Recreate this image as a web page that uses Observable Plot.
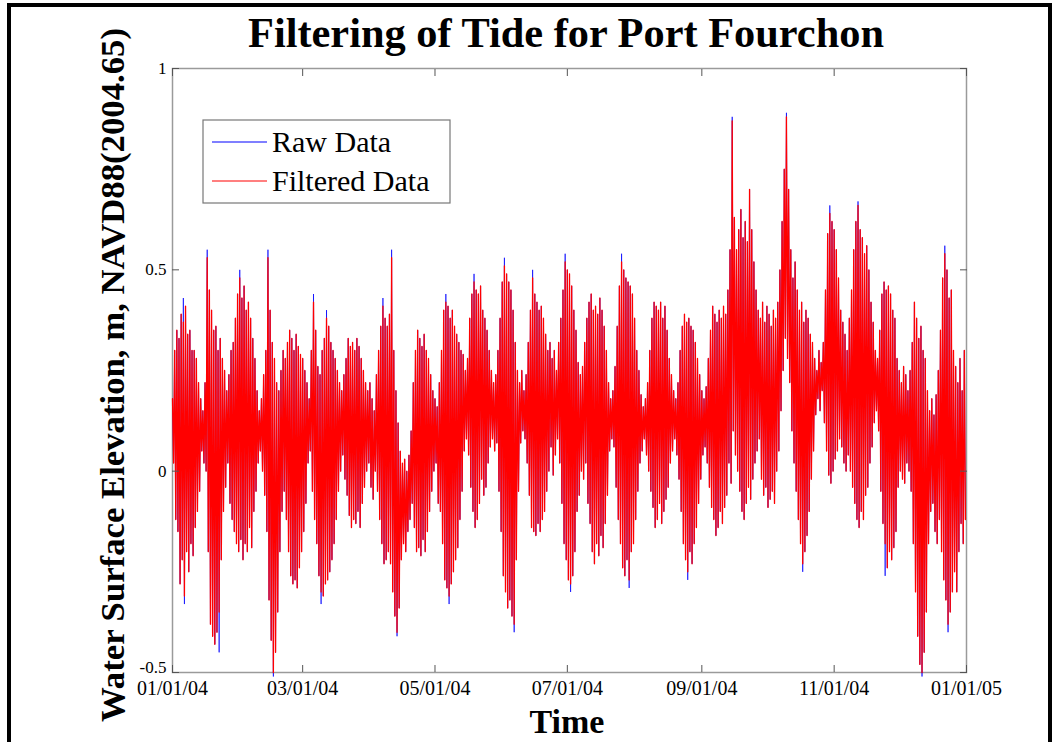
<!DOCTYPE html>
<html><head><meta charset="utf-8">
<script src="https://cdn.jsdelivr.net/npm/d3@7"></script>
<script src="https://cdn.jsdelivr.net/npm/@observablehq/plot@0.6"></script>
<style>body{margin:0;background:#fff}</style>
</head><body><div id="chart"></div>
<script>
const chartTitle = "Filtering of Tide for Port Fourchon";
const xLabel = "Time";
const yLabel = "Water Surface Elevation, m, NAVD88(2004.65)";
const seriesNames = ["Raw Data", "Filtered Data"];
const seriesColors = ["#0000ff", "#ff0000"];
const xTickDates = ["2004-01-01","2004-03-01","2004-05-01","2004-07-01","2004-09-01","2004-11-01","2005-01-01"];
const xTickLabels = ["01/01/04","03/01/04","05/01/04","07/01/04","09/01/04","11/01/04","01/01/05"];
const yTicks = [-0.5, 0, 0.5, 1];
const yTickLabels = ["-0.5", "0", "0.5", "1"];
const startDate = "2004-01-01";

// daily high water (m), one value per day from 01/01/04
const dailyHigh = [
0.18,0.30,0.35,0.33,0.39,0.37,0.41,0.34,0.35,0.30,
0.30,0.28,0.22,0.18,0.15,0.22,0.53,0.45,0.40,0.35,
0.36,0.30,0.33,0.28,0.25,0.20,0.24,0.30,0.32,0.38,
0.44,0.48,0.43,0.46,0.40,0.42,0.38,0.33,0.28,0.20,
0.15,0.18,0.24,0.30,0.53,0.40,0.32,0.28,0.22,0.20,
0.25,0.30,0.28,0.32,0.35,0.33,0.30,0.34,0.31,0.29,
0.28,0.25,0.22,0.18,0.30,0.42,0.35,0.26,0.24,0.30,
0.33,0.38,0.36,0.32,0.30,0.28,0.25,0.22,0.20,0.24,
0.28,0.33,0.31,0.32,0.30,0.33,0.31,0.28,0.25,0.22,
0.20,0.22,0.18,0.15,0.24,0.30,0.36,0.41,0.38,0.36,
0.39,0.53,0.30,0.20,0.12,0.05,0.02,0.03,0.00,0.04,
0.10,0.22,0.30,0.35,0.33,0.31,0.34,0.30,0.28,0.24,
0.20,0.18,0.16,0.22,0.30,0.40,0.42,0.41,0.38,0.40,
0.36,0.34,0.32,0.30,0.29,0.25,0.28,0.38,0.44,0.47,
0.45,0.44,0.46,0.40,0.38,0.35,0.30,0.25,0.22,0.24,
0.30,0.38,0.47,0.51,0.49,0.47,0.45,0.40,0.32,0.25,
0.22,0.25,0.20,0.24,0.32,0.40,0.48,0.44,0.42,0.40,
0.41,0.38,0.34,0.30,0.32,0.28,0.30,0.25,0.32,0.38,
0.45,0.52,0.50,0.49,0.46,0.40,0.35,0.27,0.24,0.26,
0.32,0.38,0.42,0.44,0.40,0.41,0.39,0.43,0.40,0.36,
0.30,0.22,0.18,0.20,0.26,0.36,0.46,0.52,0.50,0.48,
0.47,0.46,0.44,0.38,0.30,0.25,0.19,0.16,0.18,0.22,
0.30,0.38,0.42,0.41,0.40,0.42,0.38,0.41,0.35,0.28,
0.24,0.20,0.18,0.22,0.30,0.36,0.39,0.37,0.38,0.36,
0.35,0.32,0.28,0.24,0.20,0.18,0.21,0.28,0.35,0.41,
0.39,0.37,0.40,0.38,0.41,0.39,0.45,0.55,0.87,0.63,
0.55,0.60,0.65,0.58,0.62,0.57,0.70,0.60,0.52,0.45,
0.40,0.38,0.42,0.37,0.41,0.39,0.36,0.40,0.38,0.42,
0.50,0.62,0.75,0.88,0.70,0.55,0.48,0.52,0.45,0.40,
0.42,0.37,0.40,0.38,0.34,0.32,0.28,0.25,0.30,0.27,
0.32,0.45,0.59,0.64,0.62,0.60,0.55,0.48,0.40,0.37,
0.34,0.30,0.38,0.45,0.55,0.62,0.66,0.60,0.58,0.54,
0.56,0.50,0.42,0.37,0.30,0.28,0.35,0.44,0.47,0.45,
0.46,0.44,0.40,0.38,0.28,0.25,0.22,0.26,0.24,0.20,
0.25,0.32,0.42,0.38,0.33,0.36,0.30,0.28,0.20,0.15,
0.18,0.14,0.19,0.25,0.35,0.48,0.54,0.50,0.43,0.45,
0.30,0.26,0.22,0.28,0.20,0.30
];
// daily low water (m)
const dailyLow = [
0.02,-0.12,-0.15,-0.28,-0.22,-0.31,-0.20,-0.25,-0.18,-0.21,
-0.14,-0.10,-0.05,0.05,0.02,0.00,-0.20,-0.38,-0.41,-0.43,
-0.40,-0.35,-0.22,-0.10,-0.04,0.02,-0.08,-0.12,-0.15,-0.18,
-0.20,-0.17,-0.22,-0.18,-0.20,-0.14,-0.19,-0.10,-0.05,0.02,
0.05,0.00,-0.06,-0.15,-0.32,-0.42,-0.50,-0.45,-0.35,-0.20,
-0.10,-0.05,-0.12,-0.20,-0.26,-0.28,-0.27,-0.29,-0.24,-0.20,
-0.15,-0.08,0.02,0.05,-0.05,-0.12,-0.18,-0.26,-0.30,-0.31,
-0.28,-0.27,-0.25,-0.22,-0.18,-0.12,-0.05,0.00,0.04,-0.02,
-0.06,-0.11,-0.14,-0.12,-0.13,-0.10,-0.14,-0.08,-0.04,0.00,
0.02,-0.04,-0.07,0.00,-0.05,-0.12,-0.18,-0.23,-0.22,-0.20,
-0.23,-0.30,-0.36,-0.40,-0.34,-0.22,-0.18,-0.20,-0.15,-0.12,
-0.08,-0.14,-0.20,-0.19,-0.21,-0.17,-0.20,-0.15,-0.10,-0.05,
0.00,0.02,-0.08,-0.10,-0.18,-0.27,-0.29,-0.31,-0.28,-0.25,
-0.22,-0.19,-0.12,-0.05,0.05,0.08,0.04,-0.04,-0.10,-0.14,
-0.12,-0.08,-0.02,-0.06,-0.04,0.02,0.06,0.08,0.05,0.07,
-0.05,-0.15,-0.26,-0.30,-0.34,-0.32,-0.36,-0.38,-0.22,-0.05,
0.07,0.10,0.08,0.02,-0.06,-0.14,-0.15,-0.16,-0.13,-0.15,
-0.12,-0.10,-0.05,0.00,0.06,-0.01,0.04,0.08,0.02,-0.08,
-0.18,-0.22,-0.27,-0.28,-0.26,-0.20,-0.10,-0.06,0.00,-0.02,
0.02,-0.08,-0.13,-0.20,-0.23,-0.18,-0.21,-0.16,-0.19,-0.13,
-0.06,0.05,0.08,0.06,-0.04,-0.12,-0.18,-0.24,-0.26,-0.22,
-0.27,-0.20,-0.18,-0.12,-0.05,0.02,0.05,0.08,0.04,0.00,
-0.05,-0.09,-0.14,-0.12,-0.08,-0.13,-0.10,-0.07,-0.04,0.02,
0.05,0.08,0.04,-0.02,-0.10,-0.18,-0.22,-0.25,-0.20,-0.23,
-0.18,-0.14,-0.08,-0.02,0.04,0.06,0.02,-0.04,-0.09,-0.12,
-0.16,-0.14,-0.10,-0.13,-0.09,-0.06,0.02,-0.03,0.10,0.04,
0.00,-0.05,-0.10,-0.12,-0.08,-0.04,-0.07,-0.02,0.02,0.05,
0.08,-0.02,-0.06,-0.04,-0.09,-0.07,-0.05,-0.08,0.00,0.05,
0.15,0.25,0.33,0.28,0.22,0.10,0.02,-0.05,-0.12,-0.18,
-0.23,-0.20,-0.16,-0.10,-0.02,0.05,0.14,0.18,0.15,0.20,
0.12,0.05,-0.01,-0.03,0.00,0.03,0.05,0.08,0.06,0.02,
0.00,0.04,0.00,-0.04,-0.08,-0.12,-0.14,-0.10,-0.12,-0.06,
-0.04,0.02,0.06,0.12,0.15,0.10,-0.05,-0.13,-0.18,-0.24,
-0.20,-0.22,-0.19,-0.15,-0.04,0.00,-0.02,-0.03,0.02,0.00,
-0.05,-0.18,-0.30,-0.41,-0.48,-0.50,-0.45,-0.35,-0.18,-0.10,
-0.08,-0.15,-0.18,-0.12,-0.20,-0.27,-0.32,-0.38,-0.35,-0.30,
-0.25,-0.30,-0.20,-0.13,-0.18,-0.12
];
// raw record extremes where the raw data exceeds the filtered series: [day, value]
const rawHighPeaks = [[5,0.43],[16,0.55],[31,0.50],[44,0.55],[65,0.44],[71,0.40],[97,0.43],[101,0.55],[126,0.44],[139,0.49],[153,0.53],[166,0.50],[181,0.54],[207,0.54],[258,0.88],[283,0.89],[303,0.66],[316,0.67],[356,0.56]];
const rawLowPeaks = [[5,-0.33],[21,-0.45],[46,-0.51],[68,-0.33],[103,-0.41],[127,-0.33],[157,-0.40],[183,-0.30],[210,-0.29],[237,-0.27],[290,-0.25],[328,-0.26],[345,-0.51],[357,-0.40]];

const t0 = new Date(startDate + "T00:00:00Z");
function series(high, low) {
  const out = [];
  high.forEach((h, d) => {
    out.push({t: new Date(+t0 + d * 864e5), v: h});
    out.push({t: new Date(+t0 + d * 864e5 + 432e5), v: low[d]});
  });
  return out;
}
const rawHigh = dailyHigh.slice(), rawLow = dailyLow.slice();
rawHighPeaks.forEach(([d, v]) => rawHigh[d] = v);
rawLowPeaks.forEach(([d, v]) => rawLow[d] = v);
const rawData = series(rawHigh, rawLow);
const filtData = series(dailyHigh, dailyLow);

const xTicks = xTickDates.map(s => new Date(s + "T00:00:00Z"));
const fmtX = d => xTickLabels[xTicks.findIndex(t => +t === +d)];
const fmtY = v => yTickLabels[yTicks.indexOf(v)];
const tickStroke = "#555";
const serif = "'Liberation Serif', 'Times New Roman', serif";

const svg = Plot.plot({
  width: 1055, height: 742,
  marginLeft: 172, marginRight: 89, marginTop: 68, marginBottom: 70,
  style: {fontFamily: serif, fontSize: "17px", color: "#000", background: "#fff", overflow: "visible"},
  x: {type: "utc", domain: [xTicks[0], xTicks[xTicks.length - 1]]},
  y: {domain: [yTicks[0], yTicks[yTicks.length - 1]]},
  marks: [
    Plot.frame({stroke: "#9a9a9a", strokeWidth: 1.5}),
    Plot.line(rawData, {x: "t", y: "v", stroke: seriesColors[0], strokeWidth: 0.7}),
    Plot.line(filtData, {x: "t", y: "v", stroke: seriesColors[1], strokeWidth: 1.3}),
    Plot.axisX(xTicks, {anchor: "bottom", tickSize: 0, tickPadding: 8, tickFormat: fmtX, fontSize: 20, label: null}),
    Plot.axisX(xTicks, {anchor: "bottom", tickSize: -7, fill: "none", stroke: tickStroke, label: null}),
    Plot.axisX(xTicks, {anchor: "top", tickSize: -7, fill: "none", stroke: tickStroke, label: null}),
    Plot.axisY(yTicks.slice(1), {anchor: "left", tickSize: 0, tickPadding: 6, tickFormat: fmtY, fontSize: 17, label: null}),
    Plot.axisY(yTicks.slice(0, 1), {anchor: "left", tickSize: 0, tickPadding: 6, tickFormat: fmtY, fontSize: 17, dy: -5, label: null}),
    Plot.axisY(yTicks, {anchor: "left", tickSize: -7, fill: "none", stroke: tickStroke, label: null}),
    Plot.axisY(yTicks, {anchor: "right", tickSize: -7, fill: "none", stroke: tickStroke, label: null})
  ]
});

const s = d3.select(svg);
// outer figure border
s.append("rect").attr("x", 7).attr("y", 3).attr("width", 1045).attr("height", 4).attr("fill", "#000");
s.append("rect").attr("x", 7).attr("y", 3).attr("width", 4).attr("height", 739).attr("fill", "#000");
s.append("rect").attr("x", 1048).attr("y", 3).attr("width", 4).attr("height", 739).attr("fill", "#000");
// title and axis labels
s.append("text").text(chartTitle).attr("x", 566).attr("y", 47).attr("text-anchor", "middle")
  .attr("font-family", serif).attr("font-weight", "bold").attr("font-size", 42)
  .attr("textLength", 636).attr("lengthAdjust", "spacingAndGlyphs");
s.append("text").text(xLabel).attr("x", 567).attr("y", 733).attr("text-anchor", "middle")
  .attr("font-family", serif).attr("font-weight", "bold").attr("font-size", 34);
s.append("text").text(yLabel).attr("transform", "translate(124,375) rotate(-90)").attr("text-anchor", "middle")
  .attr("font-family", serif).attr("font-weight", "bold").attr("font-size", 34.5)
  .attr("textLength", 694).attr("lengthAdjust", "spacingAndGlyphs");
// legend
const lg = s.append("g");
lg.append("rect").attr("x", 203).attr("y", 120).attr("width", 247).attr("height", 83)
  .attr("fill", "#fff").attr("stroke", "#777").attr("stroke-width", 1.2);
seriesNames.forEach((name, i) => {
  const y = 142 + i * 39;
  lg.append("line").attr("x1", 212).attr("x2", 267).attr("y1", y).attr("y2", y)
    .attr("stroke", seriesColors[i]).attr("stroke-width", 1.2);
  lg.append("text").text(name).attr("x", 272).attr("y", y + 10).attr("text-anchor", "start")
    .attr("font-family", serif).attr("font-size", 30).attr("fill", "#000");
});
document.getElementById("chart").appendChild(svg);
</script>
</body></html>
